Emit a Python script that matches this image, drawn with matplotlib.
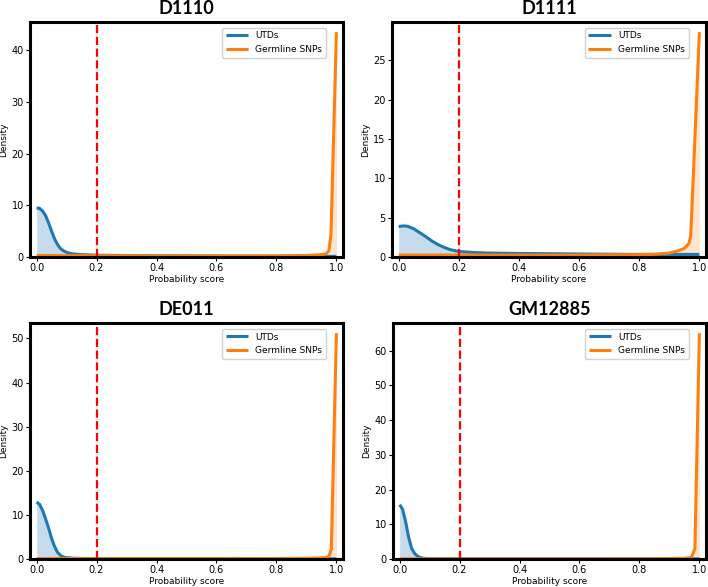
import matplotlib
matplotlib.use("Agg")
import matplotlib.pyplot as plt

titles = ["D1110", "D1111", "DE011", "GM12885"]

# UTDs density curves
utd_x1 = [0, 0.01, 0.02, 0.03, 0.04, 0.05, 0.06, 0.07, 0.08, 0.09, 0.10, 0.12, 0.15, 0.2, 0.3, 0.4, 0.6, 0.8, 1.0]
utd_y1 = [9.5, 9.4, 8.9, 8.0, 6.6, 5.0, 3.5, 2.4, 1.6, 1.2, 0.9, 0.6, 0.45, 0.35, 0.28, 0.22, 0.18, 0.15, 0.12]

utd_x2 = [0, 0.01, 0.02, 0.03, 0.05, 0.07, 0.09, 0.11, 0.13, 0.15, 0.17, 0.2, 0.25, 0.3, 0.4, 0.5, 0.6, 0.7, 0.8, 0.9, 1.0]
utd_y2 = [3.87, 3.93, 3.95, 3.9, 3.6, 3.1, 2.6, 2.05, 1.6, 1.25, 0.95, 0.7, 0.57, 0.5, 0.45, 0.42, 0.38, 0.35, 0.33, 0.33, 0.33]

utd_x3 = [0, 0.01, 0.02, 0.03, 0.04, 0.05, 0.06, 0.07, 0.08, 0.09, 0.1, 0.12, 0.15, 0.2, 0.4, 0.6, 0.8, 1.0]
utd_y3 = [12.9, 12.4, 11.0, 9.1, 7.0, 4.7, 2.8, 1.5, 0.8, 0.45, 0.3, 0.18, 0.12, 0.1, 0.08, 0.06, 0.05, 0.05]

utd_x4 = [0, 0.005, 0.01, 0.02, 0.03, 0.04, 0.05, 0.06, 0.07, 0.08, 0.1, 0.15, 0.2, 0.4, 0.6, 0.8, 1.0]
utd_y4 = [15.6, 15.0, 14.3, 10.8, 6.3, 3.1, 1.6, 0.8, 0.4, 0.2, 0.1, 0.06, 0.05, 0.04, 0.04, 0.04, 0.04]

# Germline SNPs density curves
snp_x1 = [0, 0.2, 0.4, 0.6, 0.8, 0.9, 0.95, 0.965, 0.975, 0.982, 1.0]
snp_y1 = [0.3, 0.25, 0.2, 0.2, 0.22, 0.3, 0.45, 0.6, 1.2, 4.5, 43.5]

snp_x2 = [0, 0.2, 0.4, 0.6, 0.8, 0.85, 0.9, 0.93, 0.95, 0.965, 0.971, 0.975, 1.0]
snp_y2 = [0.25, 0.25, 0.25, 0.25, 0.3, 0.35, 0.5, 0.8, 1.1, 1.7, 2.7, 6.0, 28.6]

snp_x3 = [0, 0.2, 0.4, 0.6, 0.8, 0.9, 0.95, 0.97, 0.975, 0.983, 1.0]
snp_y3 = [0.1, 0.08, 0.08, 0.08, 0.1, 0.15, 0.25, 0.4, 0.6, 2.2, 51.2]

snp_x4 = [0, 0.2, 0.4, 0.6, 0.8, 0.9, 0.95, 0.97, 0.975, 0.985, 1.0]
snp_y4 = [0.05, 0.05, 0.05, 0.05, 0.06, 0.1, 0.2, 0.4, 0.8, 3.0, 65.0]

threshold = 0.2

utd_xs = [utd_x1, utd_x2, utd_x3, utd_x4]
utd_ys = [utd_y1, utd_y2, utd_y3, utd_y4]
snp_xs = [snp_x1, snp_x2, snp_x3, snp_x4]
snp_ys = [snp_y1, snp_y2, snp_y3, snp_y4]

BLUE = "#1f77b4"
ORANGE = "#ff7f0e"

fig = plt.figure(figsize=(7.08, 5.87), dpi=100)
rects = [
    (30 / 708, 1 - 257 / 587, 313 / 708, 235 / 587),
    (392 / 708, 1 - 257 / 587, 314 / 708, 235 / 587),
    (30 / 708, 1 - 559 / 587, 313 / 708, 236 / 587),
    (393 / 708, 1 - 559 / 587, 313 / 708, 236 / 587),
]

for i in range(4):
    ax = fig.add_axes(rects[i])
    ax.fill_between(utd_xs[i], utd_ys[i], 0, color=BLUE, alpha=0.25, lw=0)
    ax.fill_between(snp_xs[i], snp_ys[i], 0, color=ORANGE, alpha=0.2, lw=0)
    ax.plot(utd_xs[i], utd_ys[i], color=BLUE, lw=2.2, label="UTDs", solid_capstyle="butt")
    ax.plot(snp_xs[i], snp_ys[i], color=ORANGE, lw=2.2, label="Germline SNPs", solid_capstyle="butt")
    ax.axvline(threshold, color="red", ls="--", lw=1.6)
    ymax = max(max(utd_ys[i]), max(snp_ys[i]))
    ax.set_ylim(0, ymax * 1.045)
    ax.set_xlim(-0.022, 1.022)
    ax.set_xticks([0.0, 0.2, 0.4, 0.6, 0.8, 1.0])
    ax.tick_params(labelsize=7, length=3, width=0.8, pad=1.5)
    ax.set_xlabel("Probability score", fontsize=6.5, labelpad=1)
    ax.set_ylabel("Density", fontsize=6.5, labelpad=2)
    for s in ax.spines.values():
        s.set_linewidth(2.2)
        s.set_color("black")
    ax.set_title(titles[i], fontsize=13, fontweight="bold", family="Lato", pad=6)
    ax.legend(loc="upper right", bbox_to_anchor=(0.945, 0.975), borderaxespad=0,
              fontsize=6.5, handlelength=2.5, framealpha=0.9)

fig.savefig("out.png", dpi=100)
